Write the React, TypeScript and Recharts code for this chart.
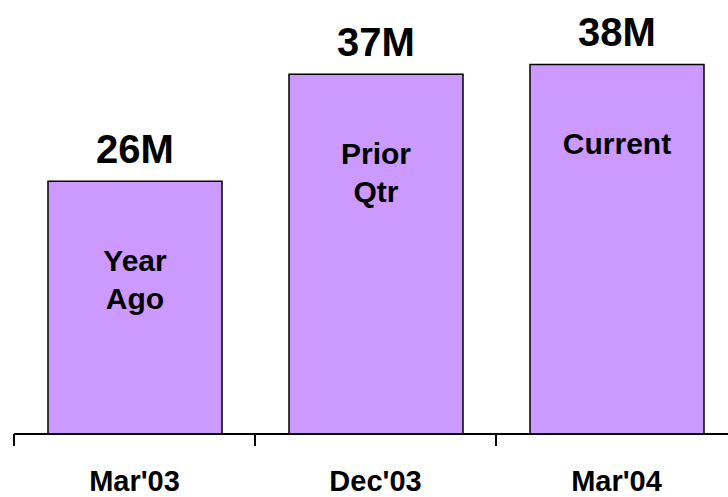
import React from 'react';
import { Bar, BarChart, LabelList, XAxis, YAxis } from 'recharts';

const periods = ["Mar'03", "Dec'03", "Mar'04"];
const subscribers = [26, 37, 38];
const valueLabels = ['26M', '37M', '38M'];
const notes = [['Year', 'Ago'], ['Prior', 'Qtr'], ['Current']];

const FONT = '"Liberation Sans", Arial, sans-serif';
const BAND_HALF = 120.5;

const chartData = periods.map((period, i) => ({
    period,
    value: subscribers[i],
    label: valueLabels[i],
    note: notes[i],
}));

const PeriodTick = (props: any) => {
    const { x, y, payload } = props;
    return (
        <g>
            <line x1={x - BAND_HALF} x2={x - BAND_HALF} y1={y} y2={y + 12} stroke="#000" strokeWidth={2} />
            <text x={x} y={y + 57} textAnchor="middle" fontFamily={FONT} fontWeight="bold" fontSize={29} fill="#000">
                {payload.value}
            </text>
        </g>
    );
};

const NoteLabel = (props: any) => {
    const { x, y, width, value } = props;
    const lines: string[] = value || [];
    return (
        <text x={x + width / 2} y={y + 90} textAnchor="middle" fontFamily={FONT} fontWeight="bold" fontSize={30} fill="#000">
            {lines.map((line, i) => (
                <tspan key={line} x={x + width / 2} dy={i === 0 ? 0 : 38}>{line}</tspan>
            ))}
        </text>
    );
};

export default function App() {
    return (
        <div style={{ position: 'absolute', top: 0, left: 0, width: 728, height: 497, overflow: 'hidden', background: '#fff' }}>
            <BarChart
                width={760}
                height={497}
                data={chartData}
                margin={{ top: 45, right: 23, left: 14, bottom: 0 }}
            >
                <XAxis
                    dataKey="period"
                    height={63}
                    axisLine={{ stroke: '#000', strokeWidth: 2 }}
                    tickLine={false}
                    tickSize={0}
                    tickMargin={0}
                    interval={0}
                    tick={<PeriodTick />}
                />
                <YAxis hide domain={[0, 40]} />
                <Bar dataKey="value" fill="#CC99FF" stroke="#000" strokeWidth={1.5} barSize={174} isAnimationActive={false}>
                    <LabelList
                        dataKey="label"
                        position="top"
                        offset={18}
                        fill="#000"
                        fontFamily={FONT}
                        fontWeight="bold"
                        fontSize={40}
                    />
                    <LabelList dataKey="note" content={<NoteLabel />} />
                </Bar>
            </BarChart>
        </div>
    );
}
